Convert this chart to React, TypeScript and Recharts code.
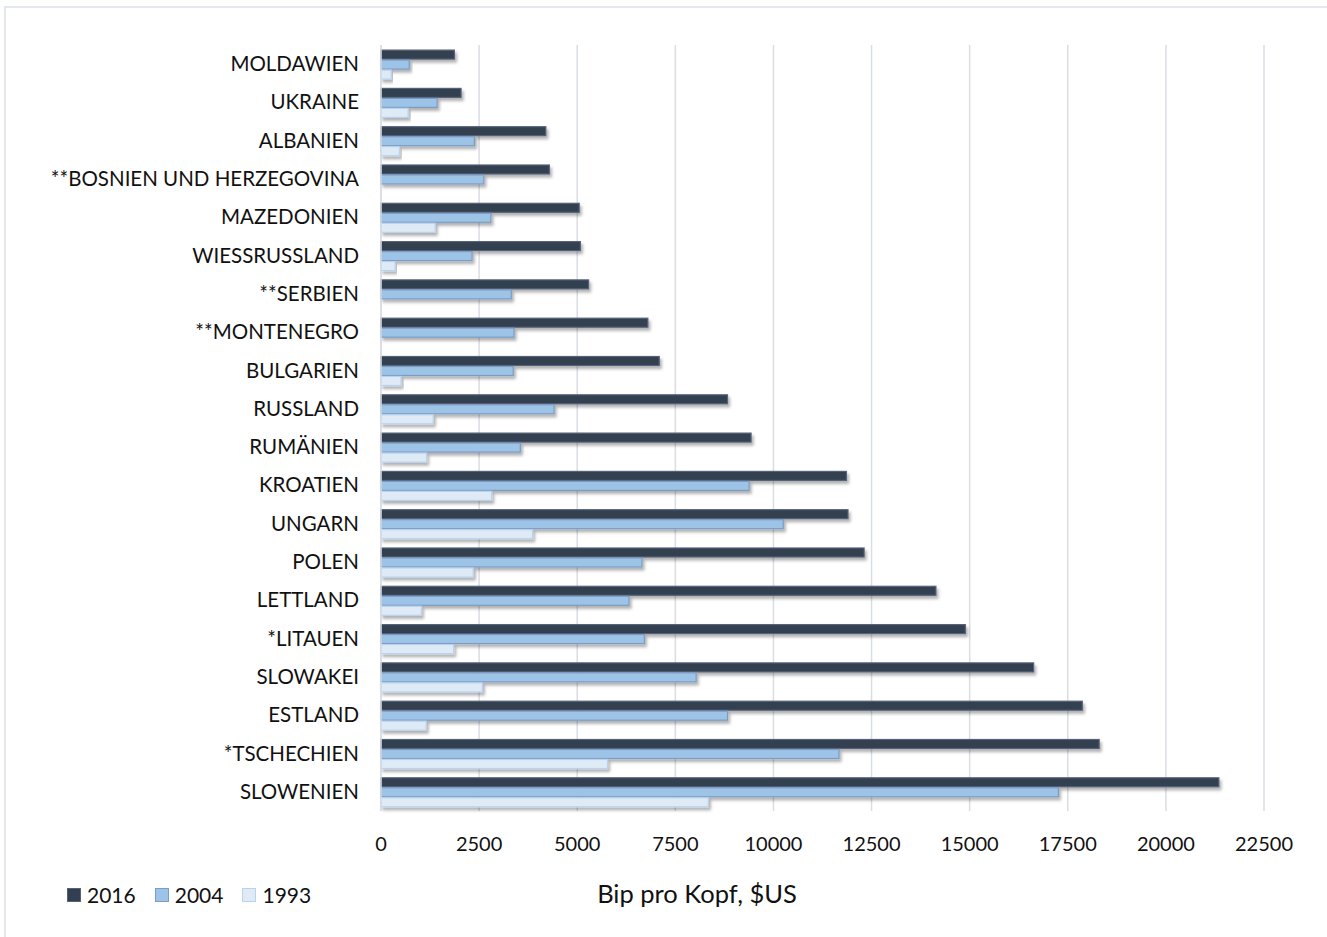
import React from 'react';
import { BarChart, Bar, XAxis, YAxis, CartesianGrid } from 'recharts';

const categories = ['MOLDAWIEN', 'UKRAINE', 'ALBANIEN', '**BOSNIEN UND HERZEGOVINA', 'MAZEDONIEN', 'WIESSRUSSLAND', '**SERBIEN', '**MONTENEGRO', 'BULGARIEN', 'RUSSLAND', 'RUMÄNIEN', 'KROATIEN', 'UNGARN', 'POLEN', 'LETTLAND', '*LITAUEN', 'SLOWAKEI', 'ESTLAND', '*TSCHECHIEN', 'SLOWENIEN'];
const v2016 = [1870, 2040, 4200, 4290, 5050, 5080, 5290, 6800, 7090, 8830, 9430, 11860, 11900, 12310, 14140, 14890, 16630, 17870, 18300, 21350];
const v2004 = [720, 1430, 2380, 2620, 2800, 2320, 3320, 3390, 3370, 4410, 3550, 9380, 10250, 6650, 6320, 6710, 8030, 8830, 11670, 17260];
const v1993 = [260, 690, 470, null, 1380, 360, null, null, 510, 1330, 1160, 2820, 3860, 2350, 1030, 1850, 2580, 1150, 5770, 8340];
const xTicks = [0, 2500, 5000, 7500, 10000, 12500, 15000, 17500, 20000, 22500];
const seriesNames = ['2016', '2004', '1993'];

const data = categories.map((c, i) => ({ name: c, y2016: v2016[i], y2004: v2004[i], y1993: v1993[i] }));

const FONT = 'Lato, "Open Sans", sans-serif';
const TEXT = '#111';

const styles = {
  y2016: { fill: '#333f50', stroke: '#56627a' },
  y2004: { fill: '#9dc3e6', stroke: '#7b9cc6' },
  y1993: { fill: '#deebf7', stroke: '#b9d3ee' },
};
const keys = ['y2016', 'y2004', 'y1993'] as const;

const ShadowBar = (props: any) => {
  const { x, y, width, height, fill, stroke } = props;
  if (!width || width <= 0) return null;
  return (
    <rect x={x} y={y + 0.5} width={width} height={height - 1} fill={fill} stroke={stroke} strokeWidth={1.2} filter="url(#barShadow)" />
  );
};

const YTick = (props: any) => {
  const { x, y, payload } = props;
  return (
    <text x={x - 14} y={y} dy={7} textAnchor="end" fontFamily={FONT} fontSize={20.5} fill={TEXT}>
      {payload.value}
    </text>
  );
};

const XTick = (props: any) => {
  const { x, y, payload } = props;
  return (
    <text x={x} y={y} dy={32} textAnchor="middle" fontFamily={FONT} fontSize={20} fill={TEXT}>
      {payload.value}
    </text>
  );
};

export default function App() {
  return (
    <div style={{ position: 'absolute', left: 0, top: 0, width: 1327, height: 937, background: '#fff' }}>
      <svg width={0} height={0} style={{ position: 'absolute' }}>
        <defs>
          <filter id="barShadow" x="-5%" y="-50%" width="115%" height="250%">
            <feDropShadow dx={2} dy={3} stdDeviation={1.8} floodColor="#000" floodOpacity={0.3} />
          </filter>
        </defs>
      </svg>
      <div style={{ position: 'absolute', left: 4, top: 6, width: 1323, height: 931, borderTop: '2px solid #e4e7ed', borderLeft: '2px solid #e4e7ed' }} />
      <div style={{ position: 'absolute', left: 0, top: 0 }}>
        <BarChart
          width={1327}
          height={937}
          data={data}
          layout="vertical"
          margin={{ top: 45, right: 63, bottom: 86, left: 0 }}
          barCategoryGap="12%"
          barGap={0}
        >
          <CartesianGrid horizontal={false} vertical={true} stroke="#d9dde4" strokeWidth={1.5} />
          <XAxis
            type="number"
            domain={[0, 22500]}
            ticks={xTicks}
            interval={0}
            axisLine={false}
            tickLine={false}
            height={40}
            tick={<XTick />}
            label={() => (
              <text x={697} y={903} textAnchor="middle" fontFamily={FONT} fontSize={25.5} fill={TEXT}>
                Bip pro Kopf, $US
              </text>
            )}
          />
          <YAxis
            type="category"
            dataKey="name"
            width={381}
            interval={0}
            axisLine={{ stroke: '#d9dde4', strokeWidth: 1.5 }}
            tickLine={false}
            tick={<YTick />}
          />
          <Bar dataKey="y2016" name="2016" fill={styles.y2016.fill} stroke={styles.y2016.stroke} isAnimationActive={false} shape={<ShadowBar />} />
          <Bar dataKey="y2004" name="2004" fill={styles.y2004.fill} stroke={styles.y2004.stroke} isAnimationActive={false} shape={<ShadowBar />} />
          <Bar dataKey="y1993" name="1993" fill={styles.y1993.fill} stroke={styles.y1993.stroke} isAnimationActive={false} shape={<ShadowBar />} />
        </BarChart>
      </div>
      <div style={{ position: 'absolute', left: 67, top: 882, display: 'flex', alignItems: 'center', fontFamily: FONT, fontSize: 21, color: TEXT }}>
        {keys.map((k, i) => (
          <div key={k} style={{ display: 'flex', alignItems: 'center', marginRight: 19 }}>
            <span style={{ display: 'inline-block', width: 12, height: 12, background: styles[k].fill, border: `1px solid ${styles[k].stroke}`, marginRight: 6 }} />
            <span>{seriesNames[i]}</span>
          </div>
        ))}
      </div>
    </div>
  );
}
